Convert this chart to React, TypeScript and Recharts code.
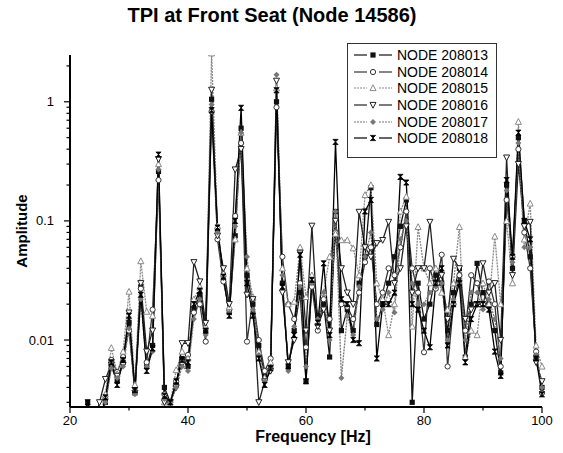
import React from 'react'
import { LineChart, Line, XAxis, YAxis, Label } from 'recharts'

// 1 Hz steps, 20..100 Hz
const FREQ = [
  20, 21, 22, 23, 24, 25, 26, 27, 28, 29,
  30, 31, 32, 33, 34, 35, 36, 37, 38, 39,
  40, 41, 42, 43, 44, 45, 46, 47, 48, 49,
  50, 51, 52, 53, 54, 55, 56, 57, 58, 59,
  60, 61, 62, 63, 64, 65, 66, 67, 68, 69,
  70, 71, 72, 73, 74, 75, 76, 77, 78, 79,
  80, 81, 82, 83, 84, 85, 86, 87, 88, 89,
  90, 91, 92, 93, 94, 95, 96, 97, 98, 99, 100,
]

const NODE_208013 = [
  0.002, 0.002, 0.002, 0.003, 0.002, 0.002, 0.003, 0.006, 0.0045, 0.0065,
  0.014, 0.0036, 0.028, 0.006, 0.009, 0.26, 0.004, 0.003, 0.0042, 0.007,
  0.006, 0.018, 0.024, 0.012, 1.05, 0.085, 0.035, 0.017, 0.075, 0.6,
  0.035, 0.02, 0.009, 0.005, 0.006, 1.0, 0.03, 0.006, 0.012, 0.025,
  0.0045, 0.03, 0.016, 0.02, 0.0072, 0.12, 0.012, 0.018, 0.012, 0.03,
  0.05, 0.19, 0.0135, 0.02, 0.03, 0.05, 0.09, 0.15, 0.003, 0.03,
  0.015, 0.02, 0.035, 0.03, 0.012, 0.025, 0.04, 0.0072, 0.02, 0.044,
  0.025, 0.02, 0.012, 0.0053, 0.2, 0.04, 0.5, 0.1, 0.05, 0.0072, 0.004,
]
const NODE_208014 = [
  0.002, 0.002, 0.002, 0.002, 0.002, 0.002, 0.0032, 0.0068, 0.0054, 0.0072,
  0.012, 0.004, 0.027, 0.0065, 0.018, 0.22, 0.0035, 0.003, 0.0045, 0.0065,
  0.0075, 0.017, 0.02, 0.0097, 0.83, 0.07, 0.031, 0.018, 0.11, 0.45,
  0.0097, 0.022, 0.01, 0.0055, 0.007, 0.9, 0.05, 0.02, 0.015, 0.03,
  0.0087, 0.028, 0.012, 0.022, 0.015, 0.08, 0.02, 0.019, 0.015, 0.025,
  0.045, 0.06, 0.02, 0.025, 0.04, 0.035, 0.06, 0.12, 0.04, 0.025,
  0.0079, 0.04, 0.027, 0.052, 0.006, 0.02, 0.035, 0.012, 0.035, 0.03,
  0.02, 0.031, 0.02, 0.006, 0.15, 0.05, 0.4, 0.08, 0.04, 0.008, 0.0036,
]
const NODE_208015 = [
  0.002, 0.002, 0.002, 0.002, 0.002, 0.002, 0.0035, 0.0086, 0.0052, 0.008,
  0.0255, 0.0042, 0.046, 0.0173, 0.016, 0.3, 0.003, 0.003, 0.0056, 0.008,
  0.007, 0.022, 0.028, 0.013, 2.55, 0.09, 0.036, 0.019, 0.07, 0.55,
  0.04, 0.023, 0.008, 0.0048, 0.0065, 1.3, 0.04, 0.02, 0.021, 0.06,
  0.023, 0.035, 0.014, 0.025, 0.05, 0.078, 0.069, 0.069, 0.059, 0.035,
  0.165, 0.2, 0.03, 0.022, 0.011, 0.02, 0.12, 0.16, 0.013, 0.089,
  0.04, 0.03, 0.04, 0.025, 0.018, 0.03, 0.089, 0.0072, 0.012, 0.011,
  0.03, 0.02, 0.074, 0.02, 0.1, 0.03, 0.68, 0.07, 0.14, 0.009, 0.006,
]
const NODE_208016 = [
  0.002, 0.002, 0.002, 0.002, 0.002, 0.003, 0.0047, 0.0062, 0.005, 0.0062,
  0.017, 0.0036, 0.03, 0.008, 0.012, 0.33, 0.003, 0.003, 0.004, 0.0094,
  0.0094, 0.045, 0.031, 0.0139, 1.26, 0.075, 0.04, 0.02, 0.27, 0.4,
  0.024, 0.022, 0.003, 0.0045, 0.0055, 1.5, 0.025, 0.0065, 0.01, 0.054,
  0.012, 0.091, 0.013, 0.018, 0.012, 0.1, 0.04, 0.025, 0.02, 0.119,
  0.06, 0.05, 0.065, 0.069, 0.098, 0.03, 0.04, 0.09, 0.025, 0.04,
  0.04, 0.098, 0.03, 0.035, 0.015, 0.048, 0.04, 0.015, 0.018, 0.02,
  0.044, 0.025, 0.03, 0.01, 0.34, 0.035, 0.3, 0.09, 0.098, 0.0065, 0.0045,
]
const NODE_208017 = [
  0.002, 0.002, 0.002, 0.002, 0.002, 0.002, 0.003, 0.0058, 0.0048, 0.006,
  0.0125, 0.0035, 0.022, 0.006, 0.008, 0.27, 0.0032, 0.003, 0.004, 0.006,
  0.0055, 0.015, 0.022, 0.011, 0.95, 0.08, 0.033, 0.017, 0.09, 0.55,
  0.05, 0.018, 0.0075, 0.0045, 0.006, 1.69, 0.035, 0.0055, 0.013, 0.028,
  0.006, 0.03, 0.015, 0.025, 0.01, 0.12, 0.0048, 0.016, 0.011, 0.028,
  0.05, 0.08, 0.015, 0.018, 0.025, 0.017, 0.07, 0.1, 0.03, 0.02,
  0.02, 0.025, 0.028, 0.03, 0.01, 0.022, 0.03, 0.01, 0.025, 0.025,
  0.018, 0.022, 0.015, 0.007, 0.18, 0.045, 0.45, 0.06, 0.06, 0.0075, 0.004,
]
const NODE_208018 = [
  0.002, 0.002, 0.002, 0.003, 0.002, 0.002, 0.0033, 0.0065, 0.0042, 0.0068,
  0.016, 0.0038, 0.024, 0.0055, 0.0085, 0.36, 0.0034, 0.003, 0.0045, 0.0068,
  0.0065, 0.02, 0.026, 0.012, 0.85, 0.088, 0.034, 0.016, 0.1, 0.89,
  0.03, 0.016, 0.007, 0.0042, 0.0058, 1.25, 0.028, 0.006, 0.011, 0.052,
  0.0045, 0.032, 0.014, 0.044, 0.011, 0.46, 0.022, 0.02, 0.01, 0.0094,
  0.12, 0.15, 0.007, 0.02, 0.02, 0.025, 0.234, 0.21, 0.02, 0.018,
  0.012, 0.0087, 0.03, 0.04, 0.009, 0.02, 0.03, 0.0065, 0.015, 0.02,
  0.02, 0.018, 0.008, 0.005, 0.22, 0.05, 0.55, 0.1, 0.07, 0.007, 0.0035,
]

const X_TICKS = [20, 30, 40, 50, 60, 70, 80, 90, 100]
const X_LABELED = [20, 40, 60, 80, 100]
const Y_TICKS = [
  0.003, 0.004, 0.005, 0.006, 0.007, 0.008, 0.009, 0.01,
  0.02, 0.03, 0.04, 0.05, 0.06, 0.07, 0.08, 0.09, 0.1,
  0.2, 0.3, 0.4, 0.5, 0.6, 0.7, 0.8, 0.9, 1, 2,
]
const Y_LABELED = [0.01, 0.1, 1]

const FONT = 'Arial, "Liberation Sans", sans-serif'

type Shape = 'square' | 'circle' | 'up' | 'down' | 'diamond' | 'star'

const SERIES: { key: string; name: string; values: number[]; color: string; dash?: string; shape: Shape }[] = [
  { key: 'n13', name: 'NODE 208013', values: NODE_208013, color: '#111', shape: 'square' },
  { key: 'n14', name: 'NODE 208014', values: NODE_208014, color: '#333', shape: 'circle' },
  { key: 'n15', name: 'NODE 208015', values: NODE_208015, color: '#8a8a8a', dash: '2 1', shape: 'up' },
  { key: 'n16', name: 'NODE 208016', values: NODE_208016, color: '#222', shape: 'down' },
  { key: 'n17', name: 'NODE 208017', values: NODE_208017, color: '#777', dash: '2 1', shape: 'diamond' },
  { key: 'n18', name: 'NODE 208018', values: NODE_208018, color: '#000', shape: 'star' },
]

const data = FREQ.map((f, i) => {
  const row: Record<string, number> = { freq: f }
  SERIES.forEach((s) => {
    row[s.key] = s.values[i]
  })
  return row
})

function Marker({ shape, cx, cy, color }: { shape: Shape; cx: number; cy: number; color: string }) {
  const s = 2.6
  if (shape === 'square')
    return <rect x={cx - s} y={cy - s} width={2 * s} height={2 * s} fill={color} />
  if (shape === 'circle')
    return <circle cx={cx} cy={cy} r={s} fill="#fff" stroke={color} strokeWidth={1} />
  if (shape === 'up')
    return (
      <polygon
        points={`${cx},${cy - s - 0.6} ${cx - s - 0.4},${cy + s} ${cx + s + 0.4},${cy + s}`}
        fill="#fff"
        stroke={color}
        strokeWidth={1}
      />
    )
  if (shape === 'down')
    return (
      <polygon
        points={`${cx},${cy + s + 0.6} ${cx - s - 0.4},${cy - s} ${cx + s + 0.4},${cy - s}`}
        fill="#fff"
        stroke={color}
        strokeWidth={1}
      />
    )
  if (shape === 'diamond')
    return (
      <polygon
        points={`${cx},${cy - s - 0.4} ${cx + s + 0.4},${cy} ${cx},${cy + s + 0.4} ${cx - s - 0.4},${cy}`}
        fill={color}
      />
    )
  return (
    <polygon
      points={`${cx - s},${cy - s} ${cx + s},${cy - s} ${cx - s},${cy + s} ${cx + s},${cy + s}`}
      fill={color}
      stroke={color}
      strokeWidth={0.8}
    />
  )
}

function YTick(props: any) {
  const { x, y, payload } = props
  const major = Y_LABELED.includes(payload.value)
  return (
    <g>
      <line x1={x - (major ? 6 : 3.5)} y1={y} x2={x} y2={y} stroke="#000" strokeWidth={1.2} />
      {major && (
        <text x={x - 16} y={y} dy={4.5} textAnchor="end" fontSize={13} fontFamily={FONT} fill="#000">
          {payload.value}
        </text>
      )}
    </g>
  )
}

function XTick(props: any) {
  const { x, y, payload } = props
  const major = X_LABELED.includes(payload.value)
  return (
    <g>
      <line x1={x} y1={y} x2={x} y2={y + (major ? 6 : 3.5)} stroke="#000" strokeWidth={1.2} />
      {major && (
        <text x={x} y={y + 18} textAnchor="middle" fontSize={13} fontFamily={FONT} fill="#000">
          {payload.value}
        </text>
      )}
    </g>
  )
}

function LegendBox() {
  return (
    <div
      style={{
        position: 'absolute',
        left: 347,
        top: 43,
        width: 150,
        height: 115,
        boxSizing: 'border-box',
        border: '1px solid #333',
        background: '#fff',
        paddingTop: 3,
      }}
    >
      {SERIES.map((s) => (
        <div key={s.key} style={{ display: 'flex', alignItems: 'center', height: 16.6 }}>
          <svg width={44} height={12} style={{ marginLeft: 4 }}>
            <line x1={2} y1={6} x2={15} y2={6} stroke={s.color} strokeWidth={1.2} strokeDasharray={s.dash} />
            <line x1={27} y1={6} x2={40} y2={6} stroke={s.color} strokeWidth={1.2} strokeDasharray={s.dash} />
            <Marker shape={s.shape} cx={21} cy={6} color={s.color} />
          </svg>
          <span style={{ fontFamily: FONT, fontSize: 14, color: '#000', marginLeft: 1 }}>{s.name}</span>
        </div>
      ))}
    </div>
  )
}

export default function App() {
  return (
    <div style={{ position: 'absolute', left: 0, top: 0, width: 563, height: 453, background: '#fff' }}>
      <div
        style={{
          position: 'absolute',
          left: 0,
          top: 4,
          width: 544,
          textAlign: 'center',
          fontFamily: FONT,
          fontWeight: 'bold',
          fontSize: 20,
          color: '#000',
        }}
      >
        TPI at Front Seat (Node 14586)
      </div>
      <LineChart width={563} height={453} data={data} margin={{ top: 55, right: 21, bottom: 0, left: 0 }}>
        <XAxis
          dataKey="freq"
          type="number"
          domain={[20, 100]}
          ticks={X_TICKS}
          interval={0}
          height={46}
          tickSize={0}
          tickMargin={0}
          tick={<XTick />}
          axisLine={{ stroke: '#000', strokeWidth: 2 }}
        >
          <Label
            value="Frequency [Hz]"
            position="insideBottom"
            offset={11}
            dx={7}
            style={{ fontFamily: FONT, fontWeight: 'bold', fontSize: 16, fill: '#000' }}
          />
        </XAxis>
        <YAxis
          scale="log"
          type="number"
          domain={[0.00274, 2.47]}
          allowDataOverflow
          ticks={Y_TICKS}
          interval={0}
          width={70}
          tickSize={0}
          tickMargin={0}
          tick={<YTick />}
          axisLine={{ stroke: '#000', strokeWidth: 2 }}
        >
          <Label
            value="Amplitude"
            angle={-90}
            position="insideLeft"
            offset={22}
            style={{ fontFamily: FONT, fontWeight: 'bold', fontSize: 15, fill: '#000', textAnchor: 'middle' }}
          />
        </YAxis>
        {SERIES.map((s) => (
          <Line
            key={s.key}
            dataKey={s.key}
            name={s.name}
            type="linear"
            stroke={s.color}
            strokeWidth={1.3}
            strokeDasharray={s.dash}
            isAnimationActive={false}
            dot={(p: any) => (
              <Marker key={`${s.key}-${p.index}`} shape={s.shape} cx={p.cx} cy={p.cy} color={s.color} />
            )}
            activeDot={false}
          />
        ))}
      </LineChart>
      <LegendBox />
    </div>
  )
}
